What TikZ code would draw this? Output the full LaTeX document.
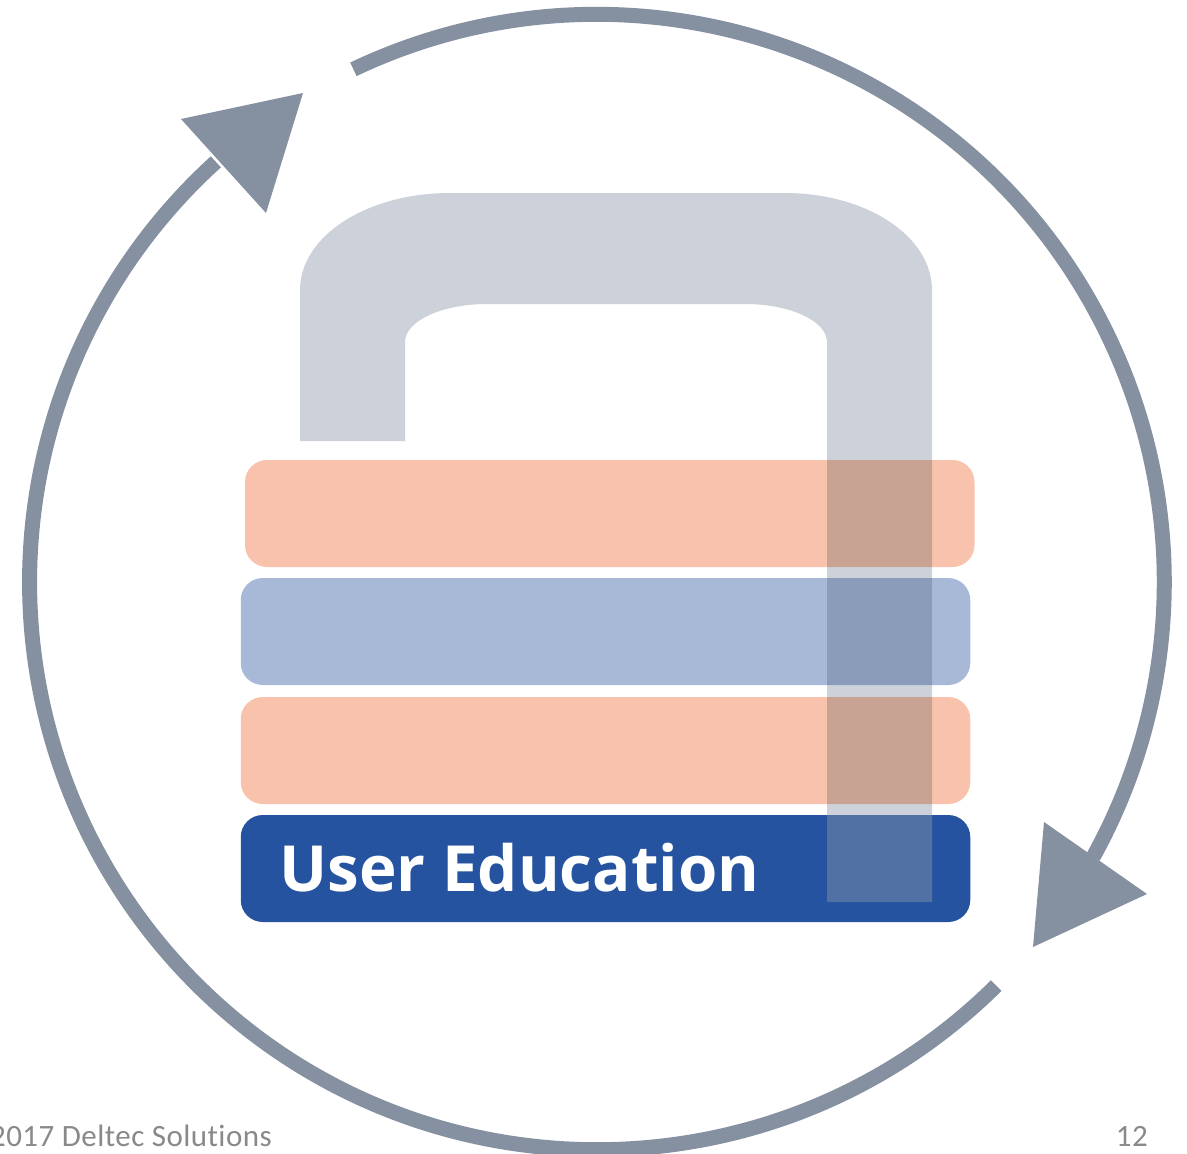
\documentclass[tikz,border=0pt]{standalone}
\usepackage{fontspec}
\setmainfont{Open Sans}
\newfontfamily\footfont[Ligatures=NoCommon,LetterSpace=1.5]{Carlito}
\definecolor{ringgray}{RGB}{133,144,161}
\definecolor{peach}{RGB}{249,194,172}
\definecolor{softblue}{RGB}{168,185,216}
\definecolor{navy}{RGB}{37,83,160}
\definecolor{shacklegray}{RGB}{140,150,168}
\definecolor{peachover}{RGB}{200,163,148}
\definecolor{blueover}{RGB}{139,155,186}
\definecolor{footgray}{RGB}{137,137,137}
\tikzset{
  barbox/.style={rectangle,rounded corners=22pt,minimum width=729.5pt,minimum height=107pt,inner sep=0pt,draw=none},
  ringarc/.style={draw=ringgray,line width=15pt,line cap=butt},
  ringhead/.style={fill=ringgray,draw=none},
  foottext/.style={font=\footfont\fontsize{31pt}{31pt}\selectfont,text=footgray,inner sep=0pt}
}
\begin{document}
\begin{tikzpicture}[x=1pt,y=-1pt]
\useasboundingbox (0,0) rectangle (1187,1154);
\clip (0,0) rectangle (1187,1154);
% ring arcs and arrow heads
\draw[ringarc] (353.4,69.3) arc[start angle=115.4,end angle=-29,radius=567.5pt];
\draw[ringarc] (996.2,985.6) arc[start angle=-45.3,end angle=-227.8,radius=567.5pt];
\fill[ringhead] (1044,822) -- (1147,894) -- (1033,947) -- cycle;
\fill[ringhead] (181,119) -- (303,93) -- (266,213) -- cycle;
% bars
\node[barbox,fill=peach] (bar1) at (609.75,513.5) {};
\node[barbox,fill=softblue] (bar2) at (605.5,631.5) {};
\node[barbox,fill=peach] (bar3) at (605.5,750.5) {};
\node[barbox,fill=navy] (bar4) at (605.5,868.5) {};
\node[anchor=base west,inner sep=0pt,text=white,font=\bfseries\fontsize{63.6pt}{64pt}\selectfont] (label) at (279.5,891) {User Education};
% shackle
\fill[shacklegray,fill opacity=0.436]
  (300,441) -- (300,290)
  .. controls (300,236) and (367,193) .. (450,193)
  -- (785,193)
  .. controls (866,193) and (932,236) .. (932,290)
  -- (932,902) -- (827,902) -- (827,342)
  .. controls (827,321) and (790,304) .. (745,304)
  -- (487,304)
  .. controls (442,304) and (405,321) .. (405,342)
  -- (405,441) -- cycle;
% where the shackle crosses the lighter bars
\fill[peachover] (827,460) rectangle (932,567);
\fill[blueover] (827,578) rectangle (932,685);
\fill[peachover] (827,697) rectangle (932,804);
% footer
\node[foottext,anchor=base east] (footleft) at (272,1146) {2017 Deltec Solutions};
\node[foottext,anchor=base east] (footright) at (1148,1146) {12};
\end{tikzpicture}
\end{document}
